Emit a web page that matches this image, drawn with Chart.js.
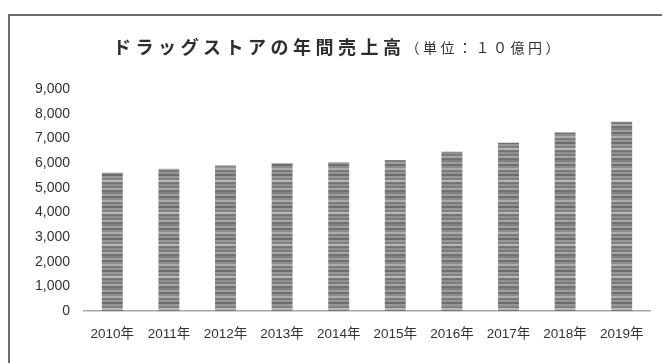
<!DOCTYPE html>
<html>
<head>
<meta charset="utf-8">
<script src="https://cdn.jsdelivr.net/npm/chart.js@4.4.0/dist/chart.umd.min.js"></script>
<style>
  html, body { margin: 0; padding: 0; background: #fff; }
  #wrap { position: relative; width: 662px; height: 363px; overflow: hidden; }
  #frame { position: absolute; left: 8px; top: 14px; width: 700px; height: 400px; border: 2px solid #6a6a6a; box-sizing: border-box; }
  #c { position: absolute; left: 0; top: 0; }
</style>
</head>
<body>
<div id="wrap">
  <div id="frame"></div>
  <canvas id="c" width="662" height="363"></canvas>
</div>
<script>
// data (unit: 10億円)
const years = ['2010年', '2011年', '2012年', '2013年', '2014年', '2015年', '2016年', '2017年', '2018年', '2019年'];
const sales = [5600, 5770, 5900, 5990, 6030, 6120, 6460, 6820, 7240, 7670];
const yTicks = [0, 1000, 2000, 3000, 4000, 5000, 6000, 7000, 8000, 9000];
const titleMain = 'ドラッグストアの年間売上高';
const titleUnit = '（単位：１０億円）';

document.addEventListener('DOMContentLoaded', function(){
    // striped gray fill like the printed bars
    function makeStripes() {
        const shades = ['#828282', '#9e9e9e', '#707070', '#8d8d8d', '#adadad', '#7b7b7b', '#949494', '#6d6d6d',
                        '#989898', '#808080', '#b8b8b8', '#757575', '#909090', '#7c7c7c', '#a5a5a5', '#727272'];
        const pc = document.createElement('canvas');
        pc.width = 4;
        pc.height = shades.length * 2;
        const p = pc.getContext('2d');
        shades.forEach(function(s, i){
            p.fillStyle = s;
            p.fillRect(0, i * 2, 4, 2);
        });
        return document.getElementById('c').getContext('2d').createPattern(pc, 'repeat');
    }

    // title with two sizes, drawn on the canvas
    const titlePlugin = {
        id: 'twoPartTitle',
        afterDraw(chart) {
            const ctx = chart.ctx;
            ctx.save();
            ctx.fillStyle = '#2e2e2e';
            ctx.textBaseline = 'middle';
            ctx.letterSpacing = '4.5px';
            ctx.font = 'bold 18px "Noto Sans CJK JP"';
            const w1 = ctx.measureText(titleMain).width;
            ctx.letterSpacing = '3.5px';
            ctx.font = '14px "Noto Sans CJK JP"';
            const w2 = ctx.measureText(titleUnit).width;
            let x = 338 - (w1 + w2) / 2;
            ctx.letterSpacing = '4.5px';
            ctx.font = 'bold 18px "Noto Sans CJK JP"';
            ctx.fillText(titleMain, x, 47);
            ctx.letterSpacing = '3.5px';
            ctx.font = '14px "Noto Sans CJK JP"';
            ctx.fillText(titleUnit, x + w1, 48);
            ctx.restore();
        }
    };

    const ctx = document.getElementById('c').getContext('2d');
    new Chart(ctx, {
        type: 'bar',
        data: {
            labels: years,
            datasets: [{
                data: sales,
                backgroundColor: makeStripes(),
                borderWidth: 0,
                categoryPercentage: 1,
                barPercentage: 0.37
            }]
        },
        options: {
            responsive: false,
            animation: false,
            layout: { padding: { left: 0, right: 12, top: 89, bottom: 0 } },
            plugins: {
                legend: { display: false },
                tooltip: { enabled: false }
            },
            scales: {
                x: {
                    grid: { display: false, drawTicks: false },
                    border: { display: true, color: '#a8a8a8', width: 1.5 },
                    ticks: {
                        color: '#333',
                        padding: 15,
                        maxRotation: 0,
                        autoSkip: false,
                        font: { family: '"Liberation Sans", "Noto Sans CJK JP"', size: 13.5 }
                    },
                    afterFit(scale) { scale.height = 52; }
                },
                y: {
                    min: 0,
                    max: 9000,
                    grid: { display: false, drawTicks: false },
                    border: { display: false },
                    afterBuildTicks(scale) { scale.ticks = yTicks.map(v => ({ value: v })); },
                    ticks: {
                        color: '#333',
                        padding: 14,
                        font: { family: '"Liberation Sans"', size: 14 },
                        callback: v => v.toLocaleString('en-US')
                    },
                    afterFit(scale) { scale.width = 84; }
                }
            }
        },
        plugins: [titlePlugin]
    });
});
</script>
</body>
</html>
